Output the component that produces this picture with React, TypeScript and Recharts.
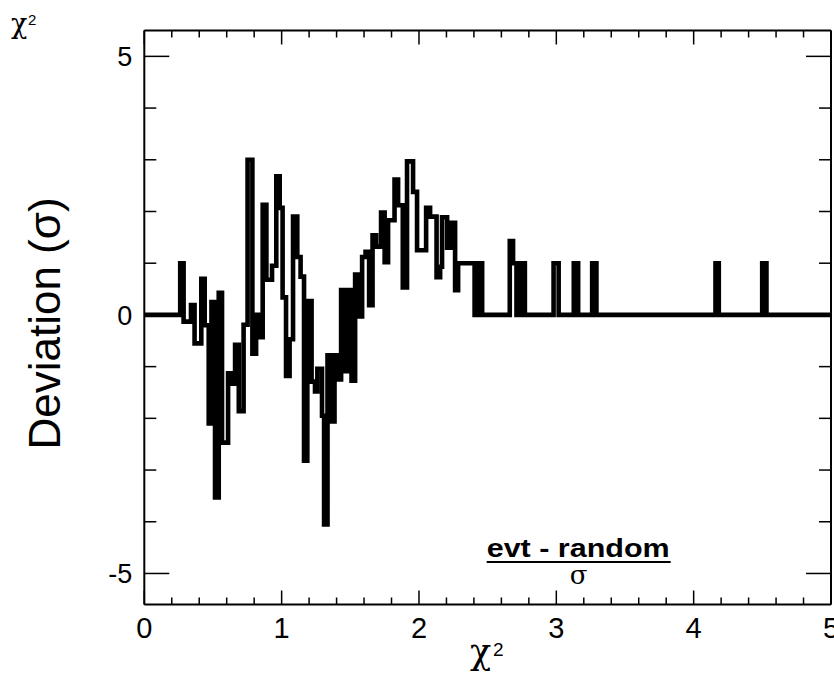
import React from 'react';
import { LineChart, Line, XAxis, YAxis, ReferenceLine } from 'recharts';

// step edges (chi2) and deviation values
const chi2Edges = [
  0, 0.2615, 0.2862, 0.34, 0.366, 0.415, 0.44, 0.469, 0.489, 0.515, 0.542, 0.566, 0.61, 0.639, 0.661,
  0.688, 0.723, 0.752, 0.787, 0.814, 0.839, 0.862, 0.889, 0.93, 0.961, 0.986, 1.007, 1.032, 1.058,
  1.083, 1.114, 1.138, 1.163, 1.187, 1.218, 1.243, 1.26, 1.294, 1.309, 1.334, 1.36, 1.385, 1.411,
  1.433, 1.458, 1.484, 1.509, 1.535, 1.56, 1.586, 1.611, 1.637, 1.662, 1.688, 1.724, 1.75, 1.775,
  1.822, 1.848, 1.882, 1.913, 1.957, 1.986, 2.052, 2.081, 2.128, 2.154, 2.168, 2.205, 2.234, 2.263,
  2.285, 2.405, 2.43, 2.46, 2.661, 2.685, 2.71, 2.74, 2.771, 2.98, 3.017, 3.127, 3.159, 3.261, 3.292,
  4.159, 4.183, 4.499, 4.53, 5,
];
const deviation = [
  0, 1.0, -0.13, 0.19, -0.55, 0.7, -0.2, -2.1, 0.25, -3.53, 0.43, -2.47, -1.13, -1.33, -0.58,
  -1.86, -0.19, 3.0, -0.75, 0, -0.43, 2.13, 0.68, 0.95, 2.68, 2.07, 0.34, -1.18, -0.47,
  1.9, 1.12, 0.74, -2.82, 0.27, -1.29, -1.48, -1.04, -1.95, -4.05, -0.78, -2.06, -0.78, -1.25,
  0.48, -1.09, 0.48, -1.27, 0.78, -0.03, 1.12, 1.22, 0.19, 1.54, 1.32, 1.98, 1.02, 1.83,
  2.62, 2.12, 0.53, 2.97, 2.38, 1.25, 2.07, 1.9, 0.73, 0.93, 1.89, 1.3, 1.78, 0.48,
  1.0, 0, 1.0, 0, 1.43, 1.0, 0, 1.0, 0, 1.0, 0, 1.0, 0, 1.0, 0,
  1.0, 0, 1.0, 0, 0,
];

const xTicks = [0, 0.2, 0.4, 0.6, 0.8, 1, 1.2, 1.4, 1.6, 1.8, 2, 2.2, 2.4, 2.6, 2.8, 3, 3.2, 3.4, 3.6, 3.8, 4, 4.2, 4.4, 4.6, 4.8, 5];
const yTicks = [-5, -4, -3, -2, -1, 0, 1, 2, 3, 4, 5];

const data = chi2Edges.map((x, i) => ({ x, dev: deviation[i] }));

const PLOT_TOP = 30.5;
const PLOT_RIGHT = 831;
const sans = '"Liberation Sans", Arial, sans-serif';
const serif = '"DejaVu Serif", "Liberation Serif", serif';

const XTick = (props: any) => {
  const { x, y, payload } = props;
  const v = payload.value;
  const major = Math.abs(v - Math.round(v)) < 1e-6;
  const len = major ? 14 : 7;
  return (
    <g>
      <line x1={x} y1={y} x2={x} y2={y - len} stroke="#000" strokeWidth={1.5} />
      <line x1={x} y1={PLOT_TOP} x2={x} y2={PLOT_TOP + len} stroke="#000" strokeWidth={1.5} />
      {major && (
        <text x={x} y={y + 33} textAnchor="middle" fontSize={29} fontFamily={sans} fill="#000">
          {v}
        </text>
      )}
    </g>
  );
};

const YTick = (props: any) => {
  const { x, y, payload } = props;
  const v = payload.value;
  const major = v % 5 === 0;
  const len = major ? 25 : 12;
  return (
    <g>
      <line x1={x} y1={y} x2={x + len} y2={y} stroke="#000" strokeWidth={1.5} />
      <line x1={PLOT_RIGHT} y1={y} x2={PLOT_RIGHT - len} y2={y} stroke="#000" strokeWidth={1.5} />
      {major && (
        <text x={x - 12} y={y + 10} textAnchor="end" fontSize={27} fontFamily={sans} fill="#000">
          {v}
        </text>
      )}
    </g>
  );
};

export default function App() {
  return (
    <div style={{ position: 'absolute', left: 0, top: 0, width: 834, height: 673, background: '#fff' }}>
      <LineChart
        width={834}
        height={673}
        data={data}
        margin={{ top: PLOT_TOP, right: 834 - PLOT_RIGHT, bottom: 38.5, left: 84.3 }}
      >
        <XAxis
          dataKey="x"
          type="number"
          domain={[0, 5]}
          ticks={xTicks}
          interval={0}
          allowDataOverflow
          height={30}
          tickSize={0}
          tickMargin={0}
          tickLine={false}
          axisLine={{ stroke: '#000', strokeWidth: 2 }}
          tick={<XTick />}
        />
        <YAxis
          type="number"
          domain={[-5.6, 5.5]}
          ticks={yTicks}
          interval={0}
          allowDataOverflow
          width={60}
          tickSize={0}
          tickMargin={0}
          tickLine={false}
          axisLine={{ stroke: '#000', strokeWidth: 2 }}
          tick={<YTick />}
        />
        <ReferenceLine y={5.5} stroke="#000" strokeWidth={2} />
        <ReferenceLine x={5} stroke="#000" strokeWidth={2} />
        <Line
          dataKey="dev"
          type="stepAfter"
          stroke="#000"
          strokeWidth={4.6}
          dot={false}
          activeDot={false}
          isAnimationActive={false}
        />
      </LineChart>
      <svg
        width={834}
        height={673}
        style={{ position: 'absolute', left: 0, top: 0, pointerEvents: 'none' }}
      >
        <text x={11} y={33} fontSize={27} fontFamily={serif} fill="#000">χ</text>
        <text x={28} y={25} fontSize={15} fontFamily={sans} fill="#000">2</text>
        <text
          transform="translate(60, 323.5) rotate(-90)"
          textAnchor="middle"
          fontSize={44}
          fontFamily={sans}
          fill="#000"
        >
          Deviation (σ)
        </text>
        <text x={470} y={664} fontSize={35} fontFamily={serif} fill="#000">χ</text>
        <text x={493} y={656} fontSize={19} fontFamily={sans} fill="#000">2</text>
        <text
          x={486.7}
          y={557}
          fontSize={26}
          fontWeight="bold"
          fontFamily={sans}
          textLength={183}
          lengthAdjust="spacingAndGlyphs"
          fill="#000"
        >
          evt - random
        </text>
        <line x1={486.7} y1={562} x2={670.7} y2={562} stroke="#000" strokeWidth={2} />
        <text x={578.7} y={584} textAnchor="middle" fontSize={26} fontFamily={serif} fill="#000">σ</text>
      </svg>
    </div>
  );
}
